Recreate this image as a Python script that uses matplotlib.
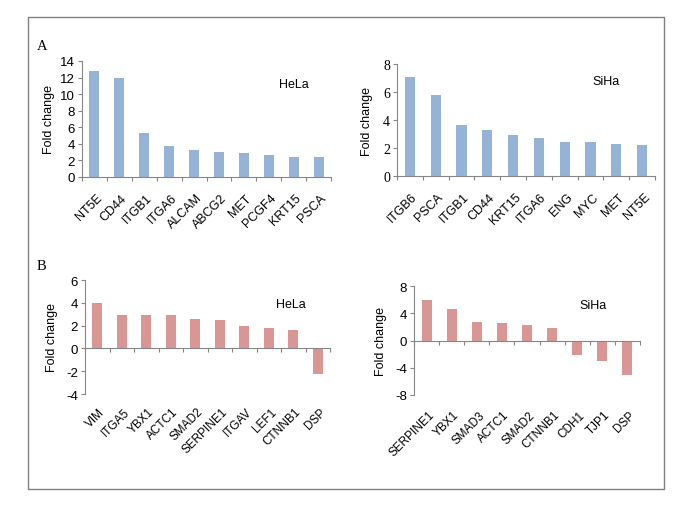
import numpy as np
import matplotlib.pyplot as plt
from matplotlib.patches import Rectangle

# Panel A - stem cell markers
hela_a_genes = ['NT5E', 'CD44', 'ITGB1', 'ITGA6', 'ALCAM', 'ABCG2', 'MET', 'PCGF4', 'KRT15', 'PSCA']
hela_a_fold = [12.8, 12.0, 5.3, 3.8, 3.2, 3.05, 2.95, 2.7, 2.45, 2.4]

siha_a_genes = ['ITGB6', 'PSCA', 'ITGB1', 'CD44', 'KRT15', 'ITGA6', 'ENG', 'MYC', 'MET', 'NT5E']
siha_a_fold = [7.1, 5.8, 3.65, 3.3, 2.9, 2.7, 2.45, 2.4, 2.3, 2.2]

# Panel B - EMT markers
hela_b_genes = ['VIM', 'ITGA5', 'YBX1', 'ACTC1', 'SMAD2', 'SERPINE1', 'ITGAV', 'LEF1', 'CTNNB1', 'DSP']
hela_b_fold = [4.0, 2.95, 2.95, 2.9, 2.6, 2.45, 1.95, 1.75, 1.65, -2.25]

siha_b_genes = ['SERPINE1', 'YBX1', 'SMAD3', 'ACTC1', 'SMAD2', 'CTNNB1', 'CDH1', 'TJP1', 'DSP']
siha_b_fold = [6.0, 4.6, 2.7, 2.5, 2.3, 1.8, -2.2, -3.0, -5.0]

BLUE = '#95b3d7'
RED = '#d99694'
AXC = '#868686'
W, H = 685, 510

plt.rcParams['font.family'] = ['Liberation Sans', 'DejaVu Sans']
plt.rcParams['axes.unicode_minus'] = False

fig = plt.figure(figsize=(W / 100, H / 100), dpi=100)


def px_axes(x0, x1, y0, y1):
    # pixel box -> figure fraction
    return fig.add_axes([x0 / W, 1 - y1 / H, (x1 - x0) / W, (y1 - y0) / H])


def bar_panel(ax, genes, vals, color, ylim, yticks, label, lpos, pad, xfs,
              ylpad=3, serif_y=False):
    n = len(genes)
    x = np.arange(n)
    # spine position first: moving it resets the ticks
    ax.spines['bottom'].set_position(('data', 0))
    for s in ['top', 'right']:
        ax.spines[s].set_visible(False)
    for s in ['left', 'bottom']:
        ax.spines[s].set_color(AXC)
        ax.spines[s].set_linewidth(0.8)
    ax.bar(x, vals, width=0.4, color=color, zorder=2)
    ax.set_xlim(-0.5, n - 0.5)
    ax.set_ylim(*ylim)
    ax.set_yticks(yticks)
    ax.set_xticks(np.arange(n + 1) - 0.5, minor=True)
    ax.set_xticks(x + 0.06)
    ax.tick_params(axis='x', which='major', length=0, pad=pad)
    ax.tick_params(axis='x', which='minor', length=3, color=AXC, width=0.8)
    ax.tick_params(axis='y', length=3, color=AXC, width=0.8, labelsize=9.5, pad=2)
    ax.set_xticklabels(genes, fontsize=xfs, rotation=45, ha='right', va='top',
                       rotation_mode='anchor')
    if serif_y:
        for t in ax.get_yticklabels():
            t.set_family('Liberation Serif')
            t.set_fontsize(10)
    ax.set_ylabel('Fold change', fontsize=9, labelpad=ylpad)
    ax.text(lpos[0], lpos[1], label, transform=ax.transAxes, fontsize=9,
            ha='center', va='center')
    ax.patch.set_alpha(0)


ax1 = px_axes(82, 331, 62, 178)
bar_panel(ax1, hela_a_genes, hela_a_fold, BLUE, (0, 14), range(0, 15, 2), 'HeLa',
          (0.85, 0.80), 10.5, 9, ylpad=4)

ax2 = px_axes(397, 655, 65, 177)
bar_panel(ax2, siha_a_genes, siha_a_fold, BLUE, (0, 8), range(0, 9, 2), 'SiHa',
          (0.81, 0.85), 10.5, 9, ylpad=7, serif_y=True)

ax3 = px_axes(85, 330, 281, 395)
bar_panel(ax3, hela_b_genes, hela_b_fold, RED, (-4, 6), range(-4, 7, 2), 'HeLa',
          (0.84, 0.79), 41, 8.5, ylpad=6)

ax4 = px_axes(414, 640, 287, 396)
bar_panel(ax4, siha_b_genes, siha_b_fold, RED, (-8, 8), range(-8, 9, 4), 'SiHa',
          (0.79, 0.83), 49, 8.5, ylpad=6)

# outer frame and panel letters
fig.patches.append(Rectangle((28 / W, 1 - 490 / H), (664 - 28) / W, (490 - 18) / H,
                             transform=fig.transFigure, fill=False, edgecolor='#808080', lw=1.0))
fig.text(37 / W, 1 - 47 / H, 'A', family='Liberation Serif', fontsize=10.5, va='center')
fig.text(37 / W, 1 - 266 / H, 'B', family='Liberation Serif', fontsize=10.5, va='center')

fig.savefig('out.png', dpi=100)
